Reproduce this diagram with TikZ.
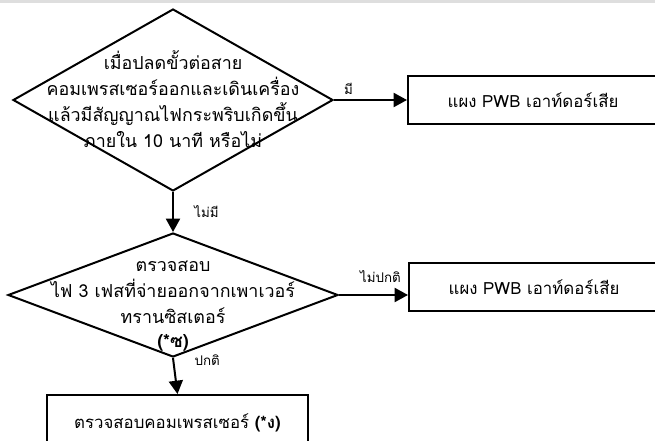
\documentclass[tikz,border=0pt]{standalone}
\usepackage{fontspec}
\setmainfont[Script=Thai]{Loma}
\usetikzlibrary{shapes.geometric,arrows.meta,positioning}

\tikzset{
    decision/.style={diamond, draw, line width=1.5pt, inner sep=0pt},
    outbox/.style={rectangle, draw, line width=1.5pt, inner sep=0pt},
    flow/.style={line width=1.5pt, -{Triangle[length=10pt,width=10.5pt]}},
    maintext/.style={align=center, font=\fontsize{13.4}{19.5}\selectfont},
    boxtext/.style={font=\fontsize{12.6}{14}\selectfont},
    edgetext/.style={font=\fontsize{10}{12}\selectfont},
}

\begin{document}
\begin{tikzpicture}[x=0.75pt, y=-0.75pt]
    % --- ขอบภาพ (หน่วยเป็นพิกเซล) ---
    \def\W{655}
    \def\H{441}
    \useasboundingbox (0,0) rectangle (\W,\H);
    \clip (0,0) rectangle (\W,\H);
    \fill[black!13] (0,0) rectangle (\W,3.5);

    % --- เงื่อนไขที่ 1 ---
    \node[decision, minimum width=240pt, minimum height=136.5pt] (cond1) at (173,100) {};
    \node[maintext] (cond1text) at (173,99)
        {เมื่อปลดขั้วต่อสาย\\คอมเพรสเซอร์ออกและเดินเครื่อง\\แล้วมีสัญญาณไฟกระพริบเกิดขึ้น\\ภายใน 10 นาที หรือไม่};

    % --- เงื่อนไขที่ 2 ---
    \node[decision, minimum width=247.5pt, minimum height=93pt] (cond2) at (173,295) {};
    \node[maintext] (cond2text) at (173,306)
        {ตรวจสอบ\\ไฟ 3 เฟสที่จ่ายออกจากเพาเวอร์\\ทรานซิสเตอร์\\[-2pt]\textbf{(*ซ)}};

    % --- กล่องผลลัพธ์ ---
    \node[outbox, boxtext, minimum width=187.5pt, minimum height=36pt] (fault1) at (533,100)
        {แผง PWB เอาท์ดอร์เสีย};
    \node[outbox, boxtext, minimum width=187.5pt, minimum height=36pt] (fault2) at (534,287)
        {แผง PWB เอาท์ดอร์เสีย};
    \node[outbox, boxtext, minimum width=195.75pt, minimum height=42pt] (check) at (177.5,423)
        {ตรวจสอบคอมเพรสเซอร์ \textbf{(*ง)}};

    % --- เส้นเชื่อม ---
    \draw[flow] (cond1.east) -- (fault1.west)
        node[edgetext, pos=0.2, above] (yes1) {มี};
    \draw[flow] (cond1.south) -- (cond2.north)
        node[edgetext, midway, right, xshift=12pt] (no1) {ไม่มี};
    \draw[flow] (cond2.east) -- (cond2.east -| fault2.west)
        node[edgetext, pos=0.6, above, yshift=5pt] (bad2) {ไม่ปกติ};
    \draw[flow] (cond2.south) -- (check.north)
        node[edgetext, pos=0.05, right, xshift=12pt] (ok2) {ปกติ};
\end{tikzpicture}
\end{document}
